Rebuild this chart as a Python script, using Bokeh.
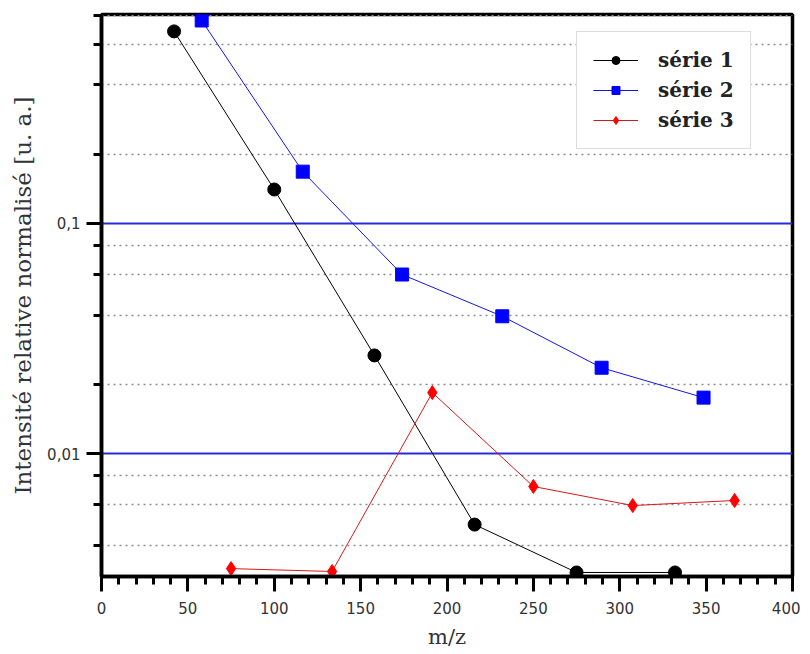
from bokeh.plotting import figure
from bokeh.models import (FixedTicker, SingleIntervalTicker, CustomJSTickFormatter,
                          Legend, LegendItem, Range1d)
from bokeh.embed import file_html
from bokeh.resources import INLINE

# data
s1_x = [42, 100, 158, 216, 275, 332]
s1_y = [0.684, 0.1405, 0.0267, 0.00491, 0.00304, 0.00304]
s2_x = [58, 116.5, 174, 232, 289.5, 348.5]
s2_y = [0.763, 0.168, 0.060, 0.0395, 0.0236, 0.0175]
s3_x = [75, 133.5, 191.5, 250, 307.5, 366.5]
s3_y = [0.00316, 0.00307, 0.0184, 0.00719, 0.00594, 0.00625]
labels = ["série 1", "série 2", "série 3"]
y_major = [0.01, 0.1]
y_minor = [0.004, 0.006, 0.008, 0.02, 0.04, 0.06, 0.08, 0.2, 0.4, 0.6, 0.8]

p = figure(width=800, height=653, y_axis_type="log",
           x_range=Range1d(0, 400), y_range=Range1d(0.00292, 0.81),
           output_backend="svg", toolbar_location=None,
           min_border_left=101, min_border_right=8, min_border_top=14, min_border_bottom=77)

p.outline_line_color = "black"
p.outline_line_width = 3.5
p.background_fill_color = "white"
p.border_fill_color = "white"

# axes
p.xaxis.ticker = SingleIntervalTicker(interval=50, num_minor_ticks=5)
p.yaxis.ticker = FixedTicker(ticks=y_major, minor_ticks=y_minor)
p.yaxis.formatter = CustomJSTickFormatter(code="return tick.toString().replace('.', ',')")
for ax in (p.xaxis[0], p.yaxis[0]):
    ax.axis_line_width = 3.5
    ax.axis_line_color = "black"
    ax.major_tick_line_width = 3
    ax.minor_tick_line_width = 3
    ax.major_tick_line_color = "black"
    ax.minor_tick_line_color = "black"
    ax.major_tick_out = 15
    ax.major_tick_in = 0
    ax.minor_tick_out = 8
    ax.minor_tick_in = 0
    ax.major_label_text_font = "DejaVu Sans"
    ax.major_label_text_font_size = "15px"
    ax.major_label_text_color = "#333333"
    ax.axis_label_text_font = "DejaVu Serif"
    ax.axis_label_text_font_style = "normal"
    ax.axis_label_text_color = "#333333"
p.xaxis.axis_label_text_font_size = "21px"
p.yaxis.axis_label_text_font_size = "23px"
p.xaxis.axis_label = "m/z"
p.yaxis.axis_label = "Intensité relative normalisé [u. a.]"
p.xaxis.major_label_standoff = 10
p.yaxis.major_label_standoff = 6
p.xaxis.axis_label_standoff = 8
p.yaxis.axis_label_standoff = 8

# grids
p.xgrid.visible = False
p.ygrid.grid_line_color = "#2a2ad8"
p.ygrid.grid_line_width = 2
p.ygrid.minor_grid_line_color = "#8c8c8c"
p.ygrid.minor_grid_line_dash = "2 4"
p.ygrid.minor_grid_line_width = 1.5

# series
l1 = p.line(s1_x, s1_y, line_color="black", line_width=1)
m1 = p.scatter(s1_x, s1_y, marker="circle", size=13, fill_color="black", line_color="black")
l2 = p.line(s2_x, s2_y, line_color="#1414e6", line_width=1)
m2 = p.scatter(s2_x, s2_y, marker="square", size=13, fill_color="#0000ff", line_color="#0000ff")
l3 = p.line(s3_x, s3_y, line_color="#d81818", line_width=1)
m3 = p.scatter(s3_x, s3_y, marker="diamond", size=14, fill_color="#ff0000", line_color="#ff0000")

legend = Legend(items=[LegendItem(label=labels[0], renderers=[l1, m1]),
                       LegendItem(label=labels[1], renderers=[l2, m2]),
                       LegendItem(label=labels[2], renderers=[l3, m3])],
                location=(475, 427))
legend.border_line_color = "#bbbbbb"
legend.border_line_width = 1.5
legend.background_fill_alpha = 1
legend.label_text_font = "DejaVu Serif"
legend.label_text_font_style = "bold"
legend.label_text_font_size = "20px"
legend.label_text_color = "#222222"
legend.glyph_width = 45
legend.glyph_height = 20
legend.label_height = 20
legend.spacing = 6
legend.padding = 16
legend.label_standoff = 20
legend.margin = 0
p.add_layout(legend)

open("out.html", "w").write(file_html(p, INLINE))
